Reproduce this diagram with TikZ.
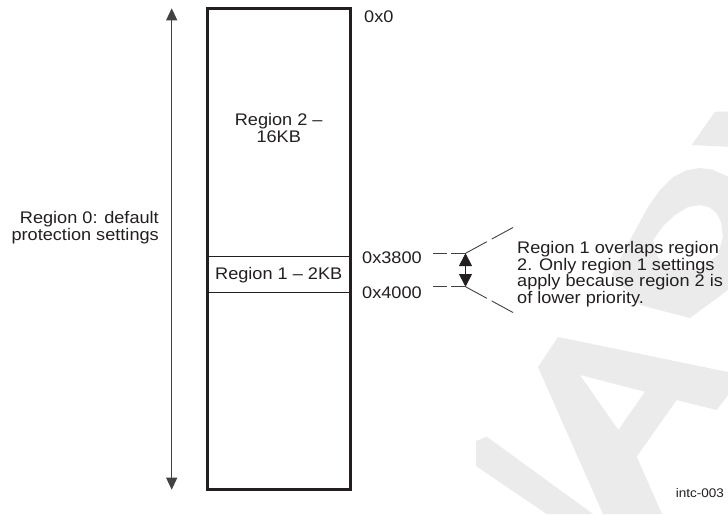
\documentclass[tikz,border=0pt]{standalone}
\usepackage{fontspec}
\setmainfont{Liberation Sans}[FakeStretch=1.08]
\usetikzlibrary{arrows.meta}
\definecolor{wm}{HTML}{EBEBEB}
\definecolor{ink}{HTML}{231F20}
\tikzset{
  lbl/.style={inner sep=0pt, text=ink},
  membox/.style={draw=ink, line width=3pt, inner sep=0pt},
  regbox/.style={draw=ink, line width=0.9pt, inner sep=0pt, text=ink},
  leader/.style={draw=ink!85, line width=0.9pt},
  bigtip/.style={{Triangle[length=12pt,width=11pt]}-{Triangle[length=12pt,width=11pt]}},
  smalltip/.style={{Triangle[length=12.7pt,width=13pt]}-{Triangle[length=12.7pt,width=13pt]}}
}
\begin{document}
\begin{tikzpicture}[x=1pt, y=-1pt, font=\fontsize{16.8}{16.7}\selectfont]
\useasboundingbox (0,0) rectangle (728,514);
\fill[white] (0,0) rectangle (728,514);

% faint watermark
\fill[wm, even odd rule]
  (538,367) -- (558,337) -- (728,372) -- (728,395) -- (716.7,410) -- (676.7,400)
  -- (636.7,456.7) -- (662,514) -- (603,514) -- cycle
  (580,375) -- (645,391.7) -- (618.3,430) -- cycle;
\fill[wm] (476,441) -- (486.7,436.7) -- (593,514) -- (546.7,514) -- (476,466) -- cycle;
\fill[wm] (715,111.7) -- (728,111.7) -- (728,146.7) -- (691.7,145) -- cycle;
\fill[wm, even odd rule]
  (728,176.7) -- (712,169.5) -- (700,168) -- (686,170.5) -- (673,177) -- (660,190)
  -- (648,207) -- (630,240) -- (612,275) -- (640,305) -- (690,318) -- (728,290) -- cycle
  (653,240) -- (664,225) -- (675,215) -- (688,207) -- (700,205) -- (710,207.5)
  -- (716.7,213.3) -- (721,222) -- (723,236.7) -- (718,255) -- (700,268) -- (675,270)
  -- (658,258) -- cycle;

% memory map
\node[regbox, minimum width=143.3pt, minimum height=36pt] (r1) at (278.7,274.8) {Region 1 – 2KB};
\node[membox, minimum width=143.3pt, minimum height=481pt] (mem) at (278.7,249.2) {};
\node[lbl, align=center, anchor=north] (r2) at (278.7,113.5) {Region 2 –\\16KB};

% region 0 arrow and label
\coordinate (la) at (171.7,8.3);
\coordinate (lb) at (171.7,489.7);
\draw[ink!85, line width=1pt, bigtip] (la) -- (lb);
\node[lbl, align=right, anchor=north east] (r0) at (159,211) {Region 0: default\\protection settings};

% addresses
\node[lbl, anchor=base west] (a0) at (364,23) {0x0};
\node[lbl, anchor=base west] (a38) at (362,263) {0x3800};
\node[lbl, anchor=base west] (a40) at (362,298.3) {0x4000};

% leaders
\coordinate (h1a) at (433,253.3);
\coordinate (h1b) at (465.5,253.3);
\coordinate (d1) at (513,227.5);
\coordinate (h2a) at (433,286.7);
\coordinate (h2b) at (465.5,286.7);
\coordinate (d2) at (513,312.5);
\draw[leader, dash pattern=on 14.3pt off 4.7pt] (h1b) -- (h1a);
\draw[leader, dash pattern=on 14.3pt off 4.7pt] (h2b) -- (h2a);
\draw[leader, dash pattern=on 24.3pt off 5.5pt] (h1b) -- (d1);
\draw[leader, dash pattern=on 24.3pt off 5.5pt] (h2b) -- (d2);
\draw[ink, line width=0.9pt, smalltip] (h1b) -- (h2b);

% note
\node[lbl, align=left, anchor=north west] (note) at (517,241)
  {Region 1 overlaps region\\2. Only region 1 settings\\apply because region 2 is\\of lower priority.};

% figure id
\node[lbl, anchor=base east, font=\fontsize{12.5}{14}\selectfont] (fig) at (724,497) {intc-003};
\end{tikzpicture}
\end{document}
